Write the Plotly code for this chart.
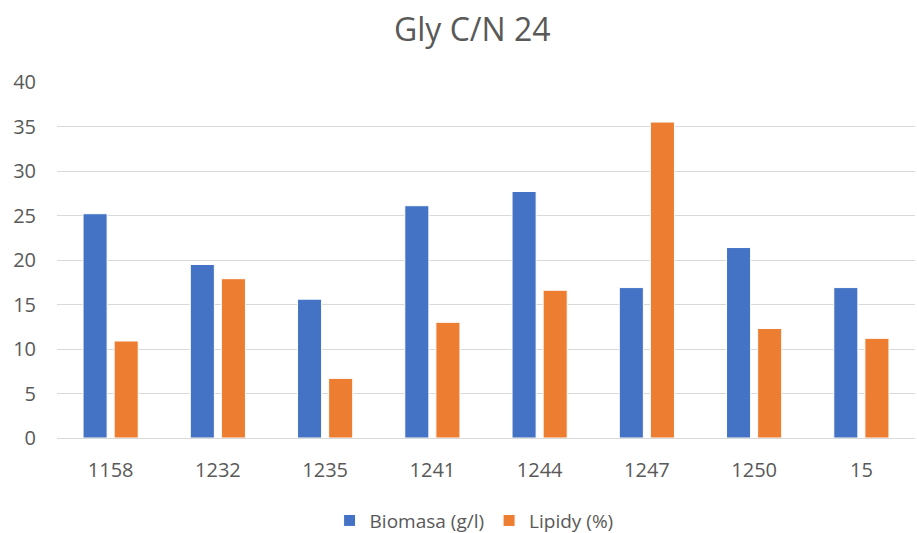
import plotly.graph_objects as go

categories = ["1158", "1232", "1235", "1241", "1244", "1247", "1250", "15"]
biomasa = [25.2, 19.5, 15.6, 26.1, 27.7, 16.9, 21.4, 16.9]
lipidy = [10.9, 17.9, 6.7, 13.0, 16.6, 35.5, 12.3, 11.2]
y_ticks = [0, 5, 10, 15, 20, 25, 30, 35, 40]

FONT = "Open Sans"
TXT = "#595959"

fig = go.Figure()
fig.add_trace(go.Bar(x=categories, y=biomasa, name="Biomasa (g/l)",
                     marker=dict(color="#4472C4", line=dict(color="white", width=1))))
fig.add_trace(go.Bar(x=categories, y=lipidy, name="Lipidy (%)",
                     marker=dict(color="#ED7D31", line=dict(color="white", width=1))))

fig.update_layout(
    width=917, height=533,
    paper_bgcolor="white", plot_bgcolor="white",
    margin=dict(l=57, r=2, t=82, b=95, autoexpand=False),
    barmode="group", bargap=0.42, bargroupgap=0.226,
    font=dict(family=FONT, color=TXT, size=20),
    title=dict(text="Gly C/N 24", x=0.515, xref="container", y=0.945,
               yref="container", xanchor="center", yanchor="middle",
               font=dict(family=FONT, size=32, color=TXT)),
    legend=dict(orientation="h", x=0.517, xref="container", xanchor="center",
                y=-0.232, yanchor="middle",
                font=dict(family=FONT, size=19, color=TXT),
                itemwidth=30, traceorder="normal"),
    xaxis=dict(showgrid=False, showline=True, linecolor="#D9D9D9", linewidth=1,
               ticks="", tickfont=dict(size=20, color=TXT), ticklabelstandoff=14),
    yaxis=dict(range=[0, 40], tickvals=y_ticks, showgrid=True, gridcolor="#D9D9D9",
               gridwidth=1, zeroline=False, showline=False, ticks="",
               tickfont=dict(size=20, color=TXT), ticklabelstandoff=20),
)

fig.write_html("out.html")
